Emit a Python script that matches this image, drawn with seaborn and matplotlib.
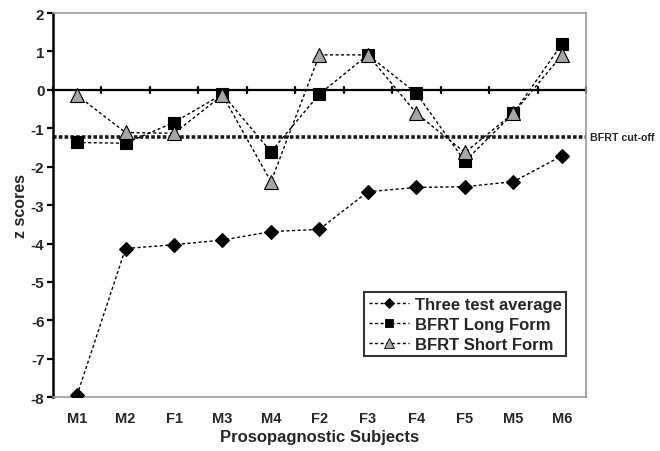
import matplotlib
matplotlib.use("Agg")
import matplotlib.pyplot as plt
from matplotlib.lines import Line2D
import pandas as pd
import seaborn as sns

# %% DATA ─────────────────────────────────────────────────────────────────
subjects = ["M1", "M2", "F1", "M3", "M4", "F2", "F3", "F4", "F5", "M5", "M6"]
three_test_avg = [-7.95, -4.13, -4.03, -3.91, -3.69, -3.63, -2.65, -2.54, -2.52, -2.39, -1.72]
bfrt_long = [-1.37, -1.39, -0.85, -0.11, -1.61, -0.11, 0.91, -0.09, -1.86, -0.61, 1.19]
bfrt_short = [-0.14, -1.11, -1.13, -0.14, -2.39, 0.91, 0.91, -0.61, -1.63, -0.61, 0.90]
bfrt_cutoff = -1.22
y_ticks = list(range(-8, 3))

# %% STYLE ────────────────────────────────────────────────────────────────
sns.set_theme(style="white")
plt.rcParams["font.family"] = ["Liberation Sans", "DejaVu Sans"]
plt.rcParams["font.weight"] = "bold"

fig = plt.figure(figsize=(6.6, 4.52), dpi=100)
ax = fig.add_axes([0.080, 0.119, 0.808, 0.850])

df = pd.DataFrame({"subject": subjects, "avg": three_test_avg,
                   "long": bfrt_long, "short": bfrt_short})

dash = (0, (2.2, 1.8))
series = [
    ("avg", "Three test average", "D", "black", 7),
    ("long", "BFRT Long Form", "s", "black", 8),
    ("short", "BFRT Short Form", "^", "#a6a6a6", 10),
]
for col, lab, mk, fc, ms in series:
    sns.lineplot(data=df, x="subject", y=col, ax=ax, sort=False,
                 color="black", lw=1, linestyle=dash, marker=mk,
                 markersize=ms, markerfacecolor=fc, markeredgecolor="black",
                 markeredgewidth=0.8, zorder=3)

# reference lines
ax.axhline(0, color="black", lw=1.6, zorder=2)
ax.axhline(bfrt_cutoff, color="#1a1a1a", lw=2.6, linestyle=(0, (1.0, 0.6)), zorder=2)
ax.annotate("BFRT cut-off", xy=(1.0, bfrt_cutoff), xycoords=("axes fraction", "data"),
            xytext=(3, 0), textcoords="offset points", fontsize=7.7,
            fontweight="bold", va="center", ha="left", annotation_clip=False)
# category boundary ticks on zero line
for b in [i + 0.5 for i in range(-1, len(subjects))]:
    ax.plot([b, b], [-0.08, 0.08], color="black", lw=1.6, zorder=2, clip_on=False)

ax.set_xlim(-0.5, len(subjects) - 0.5)
ax.set_ylim(-8, 2)
ax.set_yticks(y_ticks)
ax.set_yticklabels([str(t) for t in y_ticks], fontsize=11, fontweight="bold")
ax.tick_params(axis="y", left=True, length=4, width=1.6, color="black", pad=2)
ax.tick_params(axis="x", bottom=False, labelsize=10.5, pad=4)
for t in ax.get_xticklabels():
    t.set_fontweight("bold")

for s in ["top", "right", "bottom"]:
    ax.spines[s].set_color("#9a9a9a")
    ax.spines[s].set_linewidth(1.2)
ax.spines["left"].set_color("black")
ax.spines["left"].set_linewidth(1.8)

ax.set_xlabel("Prosopagnostic Subjects", fontsize=12, fontweight="bold", labelpad=3)
ax.set_ylabel("z scores", fontsize=11.5, fontweight="bold", labelpad=2)

handles = [Line2D([0], [0], color="black", lw=1, linestyle=dash, marker=mk,
                  markersize=ms * 0.7, markerfacecolor=fc, markeredgecolor="black",
                  markeredgewidth=0.6)
           for _, _, mk, fc, ms in series]
labels = [lab for _, lab, _, _, _ in series]
leg = ax.legend(handles, labels, loc="lower right", bbox_to_anchor=(0.963, 0.108),
                fontsize=12, frameon=True, fancybox=False, handlelength=2.4,
                handletextpad=0.4, borderpad=0.25, labelspacing=0.3,
                borderaxespad=0)
leg.get_frame().set_edgecolor("black")
leg.get_frame().set_linewidth(1.5)
for t in leg.get_texts():
    t.set_fontweight("bold")

fig.savefig("out.png", dpi=100)
